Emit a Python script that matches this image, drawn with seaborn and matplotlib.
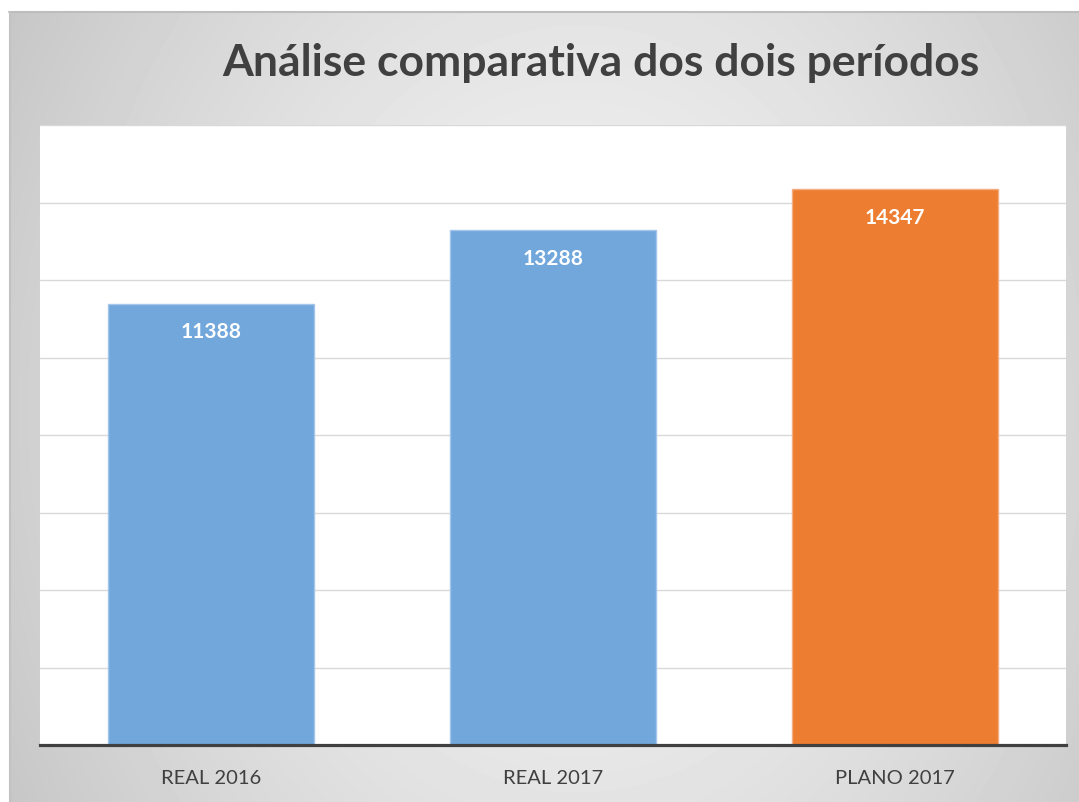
import numpy as np
import pandas as pd
import matplotlib
matplotlib.use("Agg")
import matplotlib.pyplot as plt
from matplotlib.lines import Line2D
import seaborn as sns

# ---- data ----
categories = ["REAL 2016", "REAL 2017", "PLANO 2017"]
values = [11388, 13288, 14347]
bar_colors = ["#71A7DB", "#71A7DB", "#ED7D31"]
edge_colors = ["#A3C6EA", "#A3C6EA", "#F4AD80"]
title = "Análise comparativa dos dois períodos"

sns.set_theme(style="white")
plt.rcParams["font.family"] = ["Lato", "DejaVu Sans"]

W, H = 1079, 802
fig = plt.figure(figsize=(W / 100, H / 100), dpi=100)
fig.patch.set_facecolor("white")

# gradient background of the chart area
bg_left, bg_top = 9, 12
bg = fig.add_axes([bg_left / W, 0, 1 - bg_left / W, (H - bg_top) / H])
bg.set_axis_off()
ny, nx = 200, 270
yy, xx = np.mgrid[0:ny, 0:nx]
cx, cy = nx * 0.53, ny * 0.5
r = np.sqrt(((xx - cx) / (nx * 0.53)) ** 2 + ((yy - cy) / (ny * 0.9)) ** 2)
grad = np.clip(0.95 - 0.14 * r ** 1.5, 0.74, 0.96)
bg.imshow(grad, cmap="gray", vmin=0, vmax=1, aspect="auto",
          extent=[0, 1, 0, 1], interpolation="bicubic")
bg.set_xlim(0, 1)
bg.set_ylim(0, 1)

# borders of chart area
fig.add_artist(Line2D([bg_left / W, 1], [1 - bg_top / H, 1 - bg_top / H],
                      transform=fig.transFigure, color="#bdbdbd", lw=1.5))
fig.add_artist(Line2D([(bg_left + 0.5) / W, (bg_left + 0.5) / W], [0, 1 - bg_top / H],
                      transform=fig.transFigure, color="#c2c2c2", lw=1.5))

# main axes
ax_l, ax_r, ax_t, ax_b = 40, 1066, 125, 745
ax = fig.add_axes([ax_l / W, (H - ax_b) / H, (ax_r - ax_l) / W, (ax_b - ax_t) / H])
ax.set_facecolor("white")

df = pd.DataFrame({"cat": categories, "val": values})
sns.barplot(data=df, x="cat", y="val", hue="cat", palette=bar_colors,
            legend=False, width=0.6, ax=ax, saturation=1, zorder=3)
for patch, ec in zip(ax.patches, edge_colors):
    patch.set_edgecolor(ec)
    patch.set_linewidth(1.0)

ax.set_ylim(0, 16000)
ax.set_yticks(np.arange(0, 16001, 2000))
ax.set_yticklabels([])
ax.yaxis.grid(True, color="#d9d9d9", lw=1.0, zorder=0)
ax.set_axisbelow(True)
ax.set_xlabel("")
ax.set_ylabel("")
for s in ["top", "left", "right"]:
    ax.spines[s].set_visible(False)
ax.spines["bottom"].set_color("#404040")
ax.spines["bottom"].set_linewidth(2.3)
ax.spines["bottom"].set_zorder(5)
ax.tick_params(axis="x", length=0, pad=18, labelsize=14.5, labelcolor="#404040")
ax.tick_params(axis="y", length=0)

for i, v in enumerate(values):
    ax.annotate(f"{v}", xy=(i, v), xytext=(0, -20.5), textcoords="offset points",
                ha="center", va="center", color="white", fontsize=15,
                fontweight="bold", zorder=6)

fig.text(601 / W, 1 - 63 / H, title, ha="center", va="center",
         fontsize=32, fontweight="bold", color="#404040")

fig.savefig("out.png", dpi=100, facecolor="white")
